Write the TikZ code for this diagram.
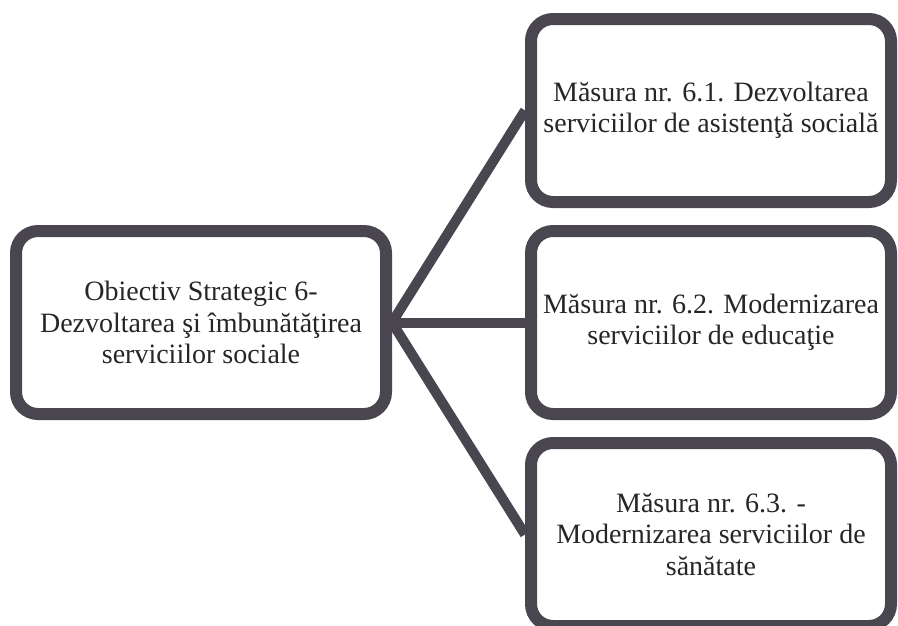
\documentclass[tikz,border=0pt]{standalone}
\usepackage{fontspec}
\setmainfont{Liberation Serif}
\usetikzlibrary{positioning}
\definecolor{boxline}{RGB}{74,70,80}

\begin{document}
\begin{tikzpicture}[x=1pt, y=-1pt, node distance=212pt]
\tikzstyle{box}=[draw=boxline, line width=12pt, rounded corners=22pt, fill=white, text=black!85, align=center, font=\fontsize{28}{31.5}\selectfont, minimum width=360pt, minimum height=183pt, inner sep=0pt]
\useasboundingbox[fill=white] (0,0) rectangle (898,625);
\node[box, minimum width=370pt] (O) at (201,322.5) {Obiectiv Strategic 6-\\Dezvoltarea şi îmbunătăţirea\\serviciilor sociale};
\node[box]    (M2)[right=133pt of O]   {Măsura nr. 6.2. Modernizarea\\serviciilor de educaţie};
\node[box]    (M1)[above of=M2]   {Măsura nr. 6.1. Dezvoltarea\\serviciilor de asistenţă socială};
\node[box]    (M3)[below of=M2]   {Măsura nr. 6.3. -\\Modernizarea serviciilor de\\sănătate};
\path[draw=boxline, line width=10pt]
(O.east) edge (M1.west)
         edge (M2.west)
         edge (M3.west);
\end{tikzpicture}
\end{document}
